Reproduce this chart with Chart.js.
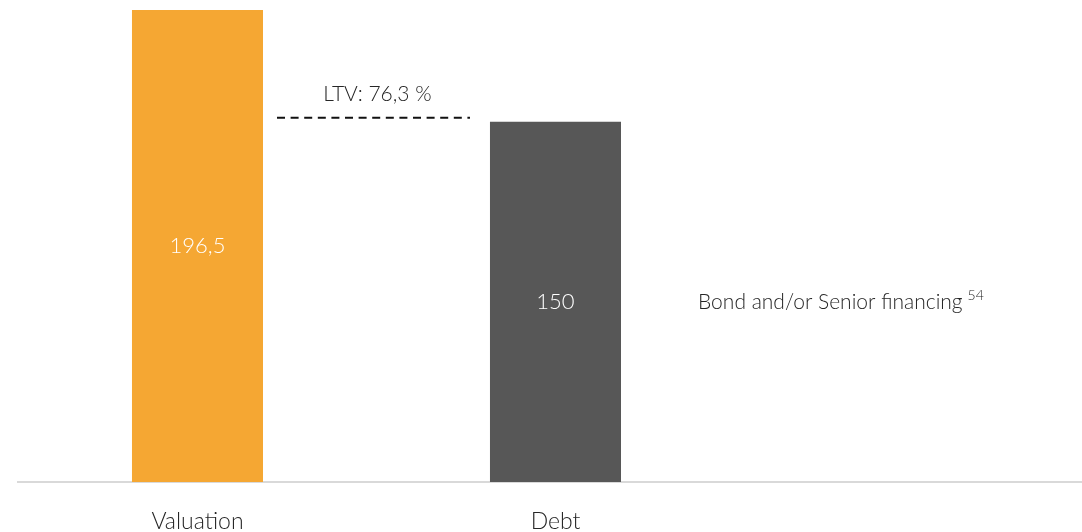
<!DOCTYPE html>
<html>
<head>
<meta charset="utf-8">
<script src="https://cdn.jsdelivr.net/npm/chart.js@4/dist/chart.umd.min.js"></script>
<style>
  html, body { margin: 0; padding: 0; background: #ffffff; }
  #wrap { width: 1082px; height: 532px; position: relative; }
</style>
</head>
<body>
<div id="wrap"><canvas id="c" width="1082" height="532"></canvas></div>
<script>
// ---- data ----
const categories = ['Valuation', 'Debt'];
const values = [196.5, 150];
const valueLabels = ['196,5', '150'];
const barColors = ['#F5A733', '#575757'];
const ltvLabel = 'LTV: 76,3 %';
const noteText = 'Bond and/or Senior financing';
const noteSup = '54';

const FONT = 'Lato, "Open Sans", sans-serif';
const TEXT = '#262626';

const points = values.map((v, i) => ({ x: i, y: v }));

const annotations = {
  id: 'annotations',
  afterDatasetsDraw(chart) {
    const ctx = chart.ctx;
    const meta = chart.getDatasetMeta(0);
    const y = chart.scales.y;
    ctx.save();
    // value labels inside the bars
    ctx.font = '300 22px ' + FONT;
    ctx.fillStyle = '#ffffff';
    ctx.textAlign = 'center';
    ctx.textBaseline = 'middle';
    meta.data.forEach((bar, i) => {
      ctx.fillText(valueLabels[i], bar.x, (bar.y + bar.base) / 2);
    });
    // LTV dashed line at the debt level
    const b0 = meta.data[0], b1 = meta.data[1];
    const x0 = b0.x + b0.width / 2 + 14;
    const x1 = b1.x - b1.width / 2 - 20;
    const ly = y.getPixelForValue(values[1]) - 4;
    ctx.strokeStyle = '#111111';
    ctx.lineWidth = 2;
    ctx.setLineDash([8, 5.6]);
    ctx.beginPath();
    ctx.moveTo(x0, ly);
    ctx.lineTo(x1, ly);
    ctx.stroke();
    ctx.setLineDash([]);
    ctx.fillStyle = TEXT;
    ctx.font = '300 21px ' + FONT;
    ctx.fillText(ltvLabel, (x0 + x1) / 2 + 4, ly - 23);
    // note next to the debt bar
    const ny = (b1.y + b1.base) / 2;
    const nx = b1.x + b1.width / 2 + 77;
    ctx.textAlign = 'left';
    ctx.font = '300 21px ' + FONT;
    ctx.fillText(noteText, nx, ny);
    const w = ctx.measureText(noteText).width;
    ctx.font = '300 14px ' + FONT;
    ctx.fillText(noteSup, nx + w + 5, ny - 6);
    ctx.restore();
  }
};

new Chart(document.getElementById('c'), {
  type: 'bar',
  data: {
    datasets: [{
      data: points,
      backgroundColor: barColors,
      borderWidth: 0,
      categoryPercentage: 1,
      barPercentage: 0.366
    }]
  },
  options: {
    responsive: false,
    animation: false,
    layout: { padding: { left: 18, right: 0, top: 10, bottom: 0 } },
    plugins: { legend: { display: false }, tooltip: { enabled: false } },
    scales: {
      x: {
        type: 'linear',
        offset: false,
        min: -0.50137,
        max: 2.4707,
        grid: { display: false, drawTicks: false },
        border: { display: true, color: '#D9D9D9', width: 2 },
        afterBuildTicks(axis) { axis.ticks = categories.map((c, i) => ({ value: i })); },
        afterFit(axis) { axis.height = 50; },
        ticks: {
          padding: 26,
          maxRotation: 0,
          autoSkip: false,
          color: TEXT,
          font: { family: FONT, size: 23, weight: '300' },
          callback: (v) => categories[v] ?? ''
        }
      },
      y: {
        display: false,
        min: 0,
        max: Math.max(...values)
      }
    }
  },
  plugins: [annotations]
});
</script>
</body>
</html>
